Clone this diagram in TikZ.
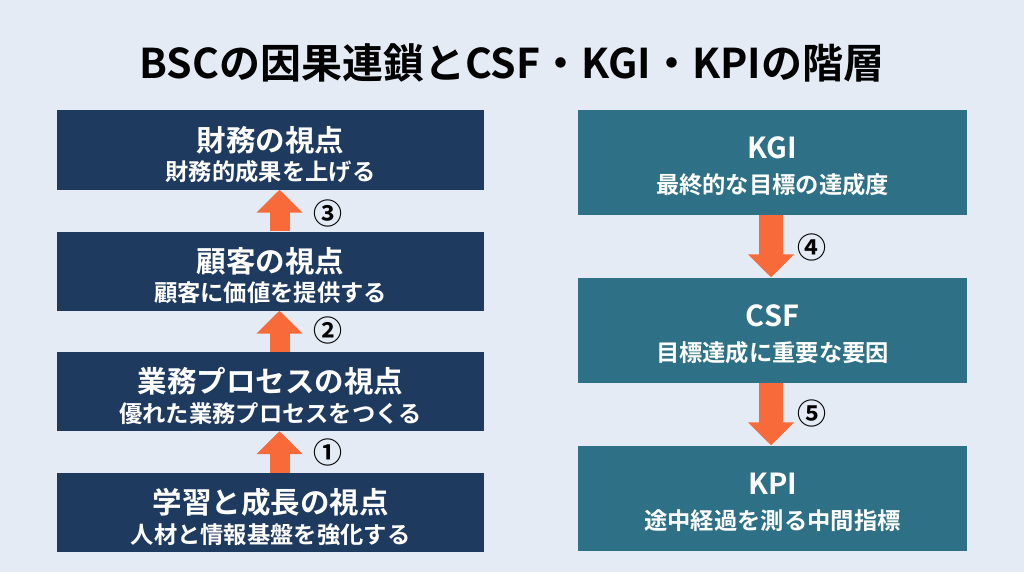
\documentclass[tikz,border=0pt]{standalone}
\usepackage{fontspec}
\setmainfont{Noto Sans CJK JP}[BoldFont={Noto Sans CJK JP Bold}]
\usetikzlibrary{arrows.meta,calc}
\definecolor{bg}{RGB}{228,235,245}
\definecolor{navy}{RGB}{31,58,95}
\definecolor{teal}{RGB}{46,112,133}
\definecolor{orng}{RGB}{249,106,58}
\tikzset{
  lbox/.style={fill=navy, draw=none, minimum width=427pt, minimum height=79pt, inner sep=0pt},
  rbox/.style={fill=teal, draw=none, minimum width=389pt, minimum height=105pt, inner sep=0pt},
  head/.style={text=white, font=\bfseries\fontsize{29.5}{31}\selectfont, inner sep=0pt},
  sub/.style={text=white, font=\bfseries\fontsize{23.3}{25}\selectfont, inner sep=0pt},
  rhead/.style={text=white, font=\bfseries\fontsize{29}{31}\selectfont, inner sep=0pt},
  num/.style={text=black, font=\bfseries\fontsize{29}{30}\selectfont, inner sep=0pt},
  blk/.style={draw=orng, line width=20pt, -{Triangle[width=45pt,length=23pt]}, shorten >=0pt},
}
\begin{document}
\begin{tikzpicture}[x=1pt,y=-1pt]
\useasboundingbox (0,0) rectangle (1024,572);
\fill[bg] (0,0) rectangle (1024,572);
\node[text=black, font=\bfseries\fontsize{41}{44}\selectfont, inner sep=0pt] (title) at (512,63) {BSCの因果連鎖とCSF・KGI・KPIの階層};
% left column
\node[lbox] (b1) at (270.5,150) {};
\node[lbox] (b2) at (270.5,271) {};
\node[lbox] (b3) at (270.5,391.5) {};
\node[lbox] (b4) at (270.5,512.5) {};
\node[head] (h1) at ($(b1.center)+(0,-10)$) {財務の視点};
\node[sub]  (s1) at ($(b1.center)+(0,22)$) {財務的成果を上げる};
\node[head] (h2) at ($(b2.center)+(0,-10)$) {顧客の視点};
\node[sub]  (s2) at ($(b2.center)+(0,22)$) {顧客に価値を提供する};
\node[head] (h3) at ($(b3.center)+(0,-10)$) {業務プロセスの視点};
\node[sub]  (s3) at ($(b3.center)+(0,22)$) {優れた業務プロセスをつくる};
\node[head] (h4) at ($(b4.center)+(0,-10)$) {学習と成長の視点};
\node[sub]  (s4) at ($(b4.center)+(0,22)$) {人材と情報基盤を強化する};
\draw[blk] ($(b4.north)+(9,0)$) -- ($(b3.south)+(9,0)$);
\draw[blk] ($(b3.north)+(9,0)$) -- ($(b2.south)+(9,0)$);
\draw[blk] ($(b2.north)+(9,0)$) -- ($(b1.south)+(9,0)$);
\node[num] (n1) at (328,452) {①};
\node[num] (n2) at (328,330) {②};
\node[num] (n3) at (328,213) {③};
% right column
\node[rbox] (k1) at (772.5,162.5) {};
\node[rbox] (k2) at (772.5,330) {};
\node[rbox] (k3) at (772.5,498) {};
\node[rhead] (t1) at ($(k1.center)+(0,-14.5)$) {KGI};
\node[sub]   (u1) at ($(k1.center)+(0,22.5)$) {最終的な目標の達成度};
\node[rhead] (t2) at ($(k2.center)+(0,-14.5)$) {CSF};
\node[sub]   (u2) at ($(k2.center)+(0,22.5)$) {目標達成に重要な要因};
\node[rhead] (t3) at ($(k3.center)+(0,-14.5)$) {KPI};
\node[sub]   (u3) at ($(k3.center)+(0,22.5)$) {途中経過を測る中間指標};
\draw[blk, line width=24pt] ($(k1.south)+(-1.5,0)$) -- ($(k2.north)+(-1.5,0)$);
\draw[blk, line width=24pt] ($(k2.south)+(-1.5,0)$) -- ($(k3.north)+(-1.5,0)$);
\node[num] (n4) at (812,247) {④};
\node[num] (n5) at (812,413) {⑤};
\end{tikzpicture}
\end{document}
